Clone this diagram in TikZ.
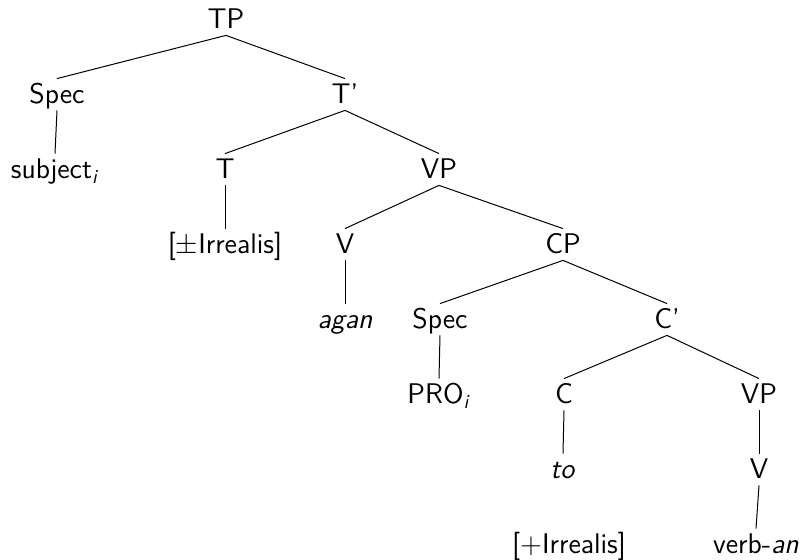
\documentclass[tikz,border=0pt]{standalone}
\usepackage{tikz}

\newlength{\du}
\setlength{\du}{0.5pt}

\tikzset{
  lbl/.style={anchor=base, inner sep=0pt, text height=12.5pt, text depth=3pt,
    font=\fontsize{14.2}{17}\selectfont\sffamily},
  branch/.style={line width=0.5pt, draw=black}
}

\begin{document}
\begin{tikzpicture}
\pgftransformxscale{1.000000}
\pgftransformyscale{-1.000000}
\useasboundingbox (0\du,0\du) rectangle (805\du,560\du);
% level 0
\node[lbl] (tp) at (226\du,29\du){TP};
% level 1
\node[lbl] (spec) at (57\du,104\du){Spec};
\node[lbl] (tbar) at (345\du,104\du){T'};
% level 2
\node[lbl] (subj) at (55\du,179\du){subject\textsubscript{\textit{i}}};
\node[lbl] (t) at (225\du,179\du){T};
\node[lbl] (vp) at (439\du,179\du){VP};
% level 3
\node[lbl] (irr) at (225\du,254\du){[$\pm$Irrealis]};
\node[lbl] (v) at (345\du,254\du){V};
\node[lbl] (cp) at (563\du,254\du){CP};
% level 4
\node[lbl] (agan) at (345\du,329\du){\textit{agan}};
\node[lbl] (specb) at (440\du,329\du){Spec};
\node[lbl] (cbar) at (667\du,329\du){C'};
% level 5
\node[lbl] (pro) at (439\du,404\du){PRO\textsubscript{\textit{i}}};
\node[lbl] (c) at (564\du,404\du){C};
\node[lbl] (vpb) at (759\du,404\du){VP};
% level 6
\node[lbl] (to) at (563\du,479\du){\textit{to}};
\node[lbl] (vb) at (759\du,479\du){V};
% level 7
\node[lbl] (irrb) at (569\du,554\du){[$+$Irrealis]};
\node[lbl] (verb) at (756\du,554\du){verb-\textit{an}};
% branches
\draw[branch] (tp.south)--(spec.north);
\draw[branch] (tp.south)--(tbar.north);
\draw[branch] (spec.south)--(subj.north);
\draw[branch] (tbar.south)--(t.north);
\draw[branch] (tbar.south)--(vp.north);
\draw[branch] (t.south)--(irr.north);
\draw[branch] (vp.south)--(v.north);
\draw[branch] (vp.south)--(cp.north);
\draw[branch] (v.south)--(agan.north);
\draw[branch] (cp.south)--(specb.north);
\draw[branch] (cp.south)--(cbar.north);
\draw[branch] (specb.south)--(pro.north);
\draw[branch] (cbar.south)--(c.north);
\draw[branch] (cbar.south)--(vpb.north);
\draw[branch] (c.south)--(to.north);
\draw[branch] (vpb.south)--(vb.north);
\draw[branch] (vb.south)--(verb.north);
\end{tikzpicture}
\end{document}
